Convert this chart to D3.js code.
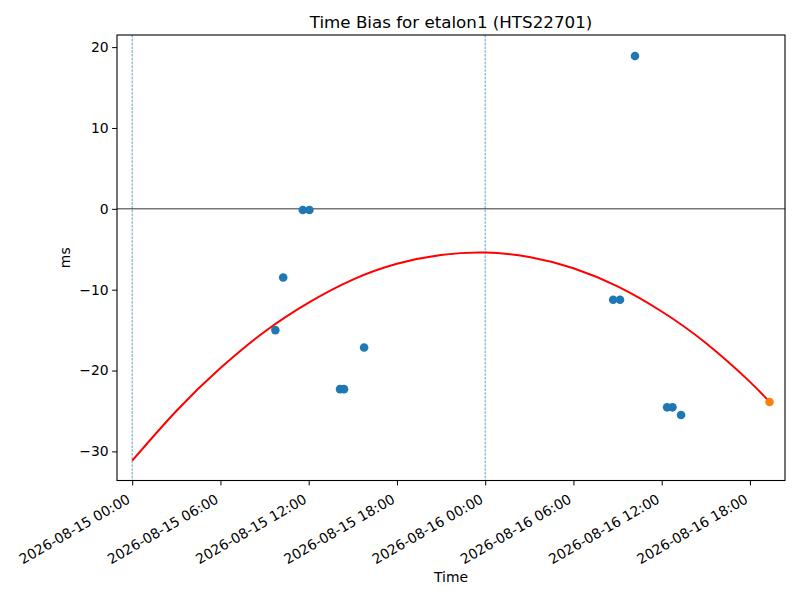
<!DOCTYPE html>
<html>
<head>
<meta charset="utf-8">
<script src="https://cdn.jsdelivr.net/npm/d3@7"></script>
<style>
  body { margin: 0; background: #fff; }
  svg { display: block; font-family: "DejaVu Sans", sans-serif; }
  svg text { font-family: "DejaVu Sans", sans-serif; }
</style>
</head>
<body>
<svg id="chart" width="800" height="600"></svg>
<script>
// ---- data ----
const title = "Time Bias for etalon1 (HTS22701)";
const xLabel = "Time";
const yLabel = "ms";

const measTimes = [
  "2026-08-15T09:44", "2026-08-15T10:16", "2026-08-15T11:36", "2026-08-15T12:03",
  "2026-08-15T14:08", "2026-08-15T14:24", "2026-08-15T15:46",
  "2026-08-16T08:42", "2026-08-16T09:10", "2026-08-16T10:11",
  "2026-08-16T12:22", "2026-08-16T12:44", "2026-08-16T13:19"
];
const measValues = [-15.0, -8.5, -0.15, -0.15, -22.3, -22.3, -17.15, -11.25, -11.25, 18.9, -24.55, -24.55, -25.5];

const lastTimes = ["2026-08-16T19:20"];
const lastValues = [-23.9];

const fitTimes = [
  "2026-08-15T00:00", "2026-08-15T03:00", "2026-08-15T06:00", "2026-08-15T09:00",
  "2026-08-15T12:00", "2026-08-15T15:00", "2026-08-15T18:00", "2026-08-15T21:00",
  "2026-08-16T00:00", "2026-08-16T03:00", "2026-08-16T06:00", "2026-08-16T09:00",
  "2026-08-16T12:00", "2026-08-16T15:00", "2026-08-16T18:00", "2026-08-16T19:20"
];
const fitValues = [-31.15, -25.0, -19.7, -15.2, -11.6, -8.75, -6.8, -5.7, -5.4, -5.95, -7.35, -9.6, -12.7, -16.6, -21.4, -23.9];

const dayMarks = ["2026-08-15T00:00", "2026-08-16T00:00"];
const zeroLine = [0];

const xDomain = ["2026-08-14T22:58", "2026-08-16T20:23"];
const yDomain = [-33.6, 21.5];
const yTicks = [-30, -20, -10, 0, 10, 20];

// ---- layout ----
const parse = d3.utcParse("%Y-%m-%dT%H:%M");
const W = 800, H = 600;
const m = { left: 117, right: 15, top: 35, bottom: 119.5 };
const iw = W - m.left - m.right, ih = H - m.top - m.bottom;
const FONT = "DejaVu Sans";

const svg = d3.select("#chart");
const g = svg.append("g").attr("transform", `translate(${m.left},${m.top})`);

const x = d3.scaleUtc().domain(xDomain.map(parse)).range([0, iw]);
const y = d3.scaleLinear().domain(yDomain).range([ih, 0]);

const C0 = "#1f77b4", C1 = "#ff7f0e";

// clip
svg.append("defs").append("clipPath").attr("id", "clip")
  .append("rect").attr("width", iw).attr("height", ih);
const plot = g.append("g").attr("clip-path", "url(#clip)");

// vertical day lines
plot.selectAll("line.day").data(dayMarks).join("line")
  .attr("class", "day")
  .attr("x1", d => x(parse(d))).attr("x2", d => x(parse(d)))
  .attr("y1", 0).attr("y2", ih)
  .attr("stroke", C0).attr("stroke-width", 0.7)
  .attr("stroke-dasharray", "2.6,1.2");

// zero line
plot.selectAll("line.zero").data(zeroLine).join("line")
  .attr("class", "zero")
  .attr("x1", 0).attr("x2", iw)
  .attr("y1", d => y(d)).attr("y2", d => y(d))
  .attr("stroke", "#000").attr("stroke-width", 0.8);

// fit curve
const fit = fitTimes.map((t, i) => ({ t: parse(t), v: fitValues[i] }));
plot.append("path").datum(fit)
  .attr("fill", "none").attr("stroke", "red").attr("stroke-width", 2)
  .attr("d", d3.line().x(d => x(d.t)).y(d => y(d.v)).curve(d3.curveNatural));

// measurement points
const meas = measTimes.map((t, i) => ({ t: parse(t), v: measValues[i] }));
plot.selectAll("circle.meas").data(meas).join("circle")
  .attr("class", "meas")
  .attr("cx", d => x(d.t)).attr("cy", d => y(d.v)).attr("r", 4.3)
  .attr("fill", C0);

const last = lastTimes.map((t, i) => ({ t: parse(t), v: lastValues[i] }));
plot.selectAll("circle.last").data(last).join("circle")
  .attr("class", "last")
  .attr("cx", d => x(d.t)).attr("cy", d => y(d.v)).attr("r", 4.3)
  .attr("fill", C1);

// axes
const fmt = d3.utcFormat("%Y-%m-%d %H:%M");
const xAxis = g.append("g").attr("transform", `translate(0,${ih})`)
  .call(d3.axisBottom(x).ticks(d3.utcHour.every(6)).tickFormat(fmt).tickSizeOuter(0).tickSize(4.9).tickPadding(0));
xAxis.attr("font-family", FONT).attr("font-size", 13.9);
xAxis.select(".domain").remove();
xAxis.selectAll(".tick line").attr("stroke", "#000").attr("stroke-width", 1);
xAxis.selectAll(".tick text")
  .attr("font-size", 13.9).attr("font-family", FONT).attr("fill", "#000")
  .attr("text-anchor", "end")
  .attr("dy", null)
  .attr("y", 0)
  .attr("transform", "translate(-1.5,21.5) rotate(-30)");

const yAxis = g.append("g")
  .call(d3.axisLeft(y).tickValues(yTicks).tickFormat(d => d3.format("d")(d).replace("-", "\u2212")).tickSizeOuter(0).tickSize(4.9).tickPadding(3.5));
yAxis.attr("font-family", FONT).attr("font-size", 13.9);
yAxis.select(".domain").remove();
yAxis.selectAll(".tick line").attr("stroke", "#000").attr("stroke-width", 1);
yAxis.selectAll(".tick text").attr("font-size", 13.9).attr("font-family", FONT).attr("fill", "#000");

// frame
g.append("rect").attr("width", iw).attr("height", ih)
  .attr("fill", "none").attr("stroke", "#000").attr("stroke-width", 1.1);

// labels
svg.append("text").attr("x", m.left + iw / 2).attr("y", 28)
  .attr("text-anchor", "middle").attr("font-size", 16.7).attr("font-family", FONT).text(title);
svg.append("text").attr("x", m.left + iw / 2).attr("y", 582)
  .attr("text-anchor", "middle").attr("font-size", 13.9).attr("font-family", FONT).text(xLabel);
svg.append("text").attr("transform", `translate(69.5,${m.top + ih / 2}) rotate(-90)`)
  .attr("text-anchor", "middle").attr("font-size", 13.9).attr("font-family", FONT).text(yLabel);
</script>
</body>
</html>
